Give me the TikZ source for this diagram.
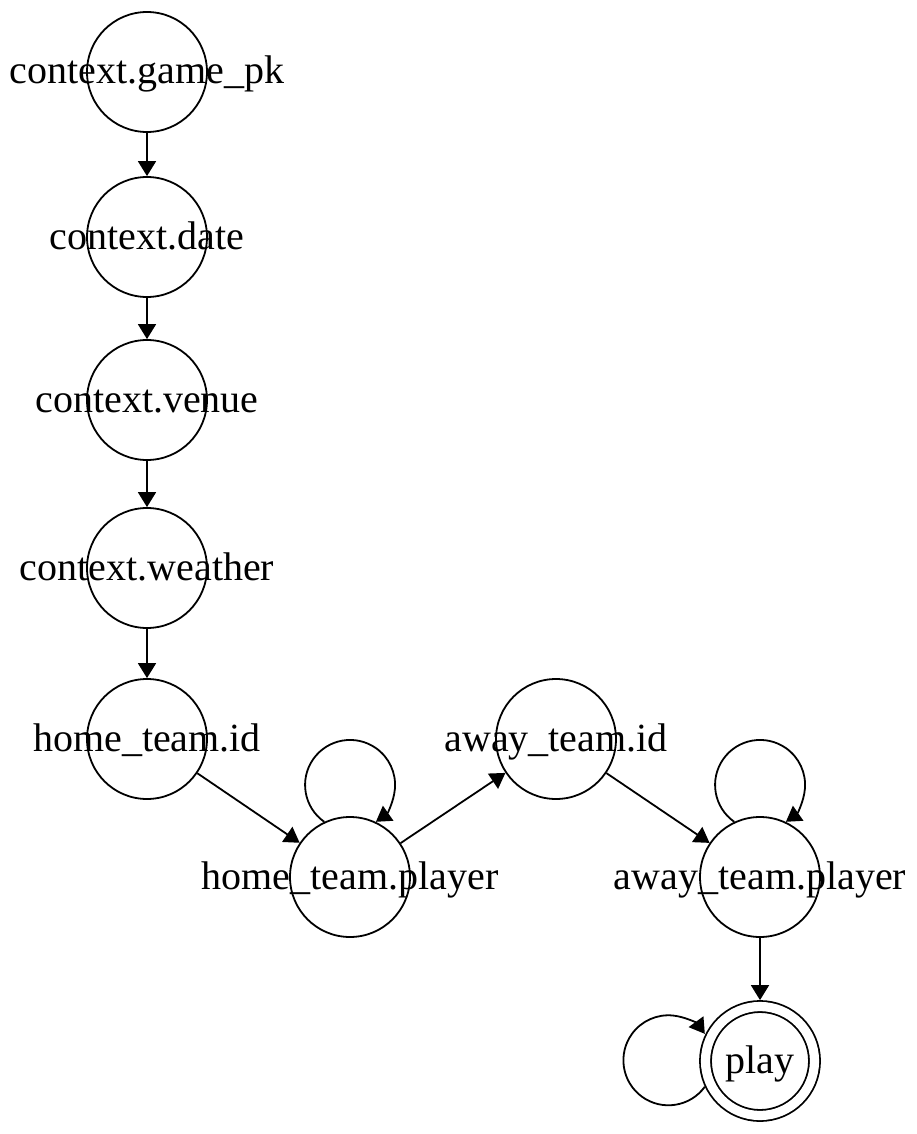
\documentclass[tikz,border=0pt]{standalone}
\usepackage{fontspec}
\setmainfont{Liberation Serif}
\usetikzlibrary{arrows.meta}
\newcommand{\statelabel}[1]{\raisebox{-6pt}[0pt][0pt]{\makebox[0pt]{#1}}}
\begin{document}
\begin{tikzpicture}[x=0.5pt,y=0.5pt,
  state/.style={circle,draw,line width=0.9pt,minimum size=60pt,inner sep=0pt,
    font=\fontsize{20}{24}\selectfont},
  final/.style={state,minimum size=54.5pt,double,double distance=4.6pt,outer sep=3.2pt},
  edge/.style={line width=0.9pt,-{Triangle[length=7.5pt,width=9pt]}}]
\useasboundingbox (0,0) rectangle (916,-1134);
\node[state] (gpk) at (147,-72) {\statelabel{context.game\_pk}};
\node[state] (date) at (147,-237) {\statelabel{context.date}};
\node[state] (venue) at (147,-400) {\statelabel{context.venue}};
\node[state] (weather) at (147,-568) {\statelabel{context.weather}};
\node[state] (hid) at (147,-739) {\statelabel{home\_team.id}};
\node[state] (hp) at (350,-877) {\statelabel{home\_team.player}};
\node[state] (aid) at (556,-739) {\statelabel{away\_team.id}};
\node[state] (ap) at (760,-877) {\statelabel{away\_team.player}};
\node[final] (play) at (760,-1061) {\statelabel{play}};
\draw[edge] (gpk) -- (date);
\draw[edge] (date) -- (venue);
\draw[edge] (venue) -- (weather);
\draw[edge] (weather) -- (hid);
\draw[edge] (hid) -- (hp);
\draw[edge] (hp) -- (aid);
\draw[edge] (aid) -- (ap);
\draw[edge] (ap) -- (play);
\draw[edge] (hp.115.4) arc[start angle=235,end angle=-55,radius=22.5pt];
\draw[edge] (ap.115.4) arc[start angle=235,end angle=-55,radius=22.5pt];
\draw[edge] (play.205.8) arc[start angle=-36,end angle=-324,radius=22.5pt];
\end{tikzpicture}
\end{document}
